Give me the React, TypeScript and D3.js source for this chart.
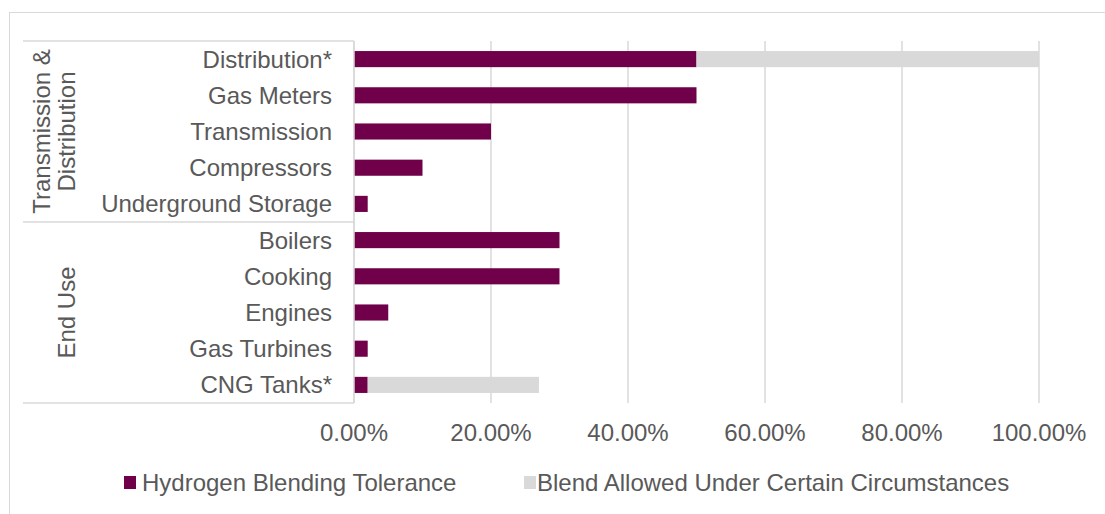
import React from "react";
import * as d3 from "d3";

const categories = [
  "Distribution*",
  "Gas Meters",
  "Transmission",
  "Compressors",
  "Underground Storage",
  "Boilers",
  "Cooking",
  "Engines",
  "Gas Turbines",
  "CNG Tanks*",
];
const tolerance = [50, 50, 20, 10, 2, 30, 30, 5, 2, 2];
const allowed = [50, 0, 0, 0, 0, 0, 0, 0, 0, 25];
const groups = [
  { lines: ["Transmission &", "Distribution"], from: 0, to: 4 },
  { lines: ["End Use"], from: 5, to: 9 },
];
const ticks = [0, 20, 40, 60, 80, 100];
const seriesNames = ["Hydrogen Blending Tolerance", "Blend Allowed Under Certain Circumstances"];

const W = 1105;
const H = 514;
const PURPLE = "#6F0049";
const GRAY = "#D9D9D9";
const TEXT = "#595959";
const FONT = "'Liberation Sans', Arial, sans-serif";
const FS = 24;

export default function App() {
  const x = d3.scaleLinear().domain([0, 100]).range([354, 1039]);
  const y = d3.scaleBand().domain(categories).range([41, 403]).paddingInner(0.555).paddingOuter(0.2775);
  const bh = y.bandwidth();
  const step = y.step();
  const top = 41;
  const bottom = 403;
  const groupY = (i: number) => top + i * step;

  return (
    <svg width={W} height={H} style={{ position: "absolute", left: 0, top: 0, background: "#fff" }} fontFamily={FONT}>
      <rect x={9.5} y={12.5} width={1200} height={600} fill="#fff" stroke={GRAY} strokeWidth={1} />
      {ticks.map((t) => (
        <line key={t} x1={x(t)} x2={x(t)} y1={top} y2={bottom} stroke={GRAY} strokeWidth={1.5} />
      ))}
      {categories.map((c, i) => (
        <g key={c}>
          <rect x={x(0)} y={y(c)} width={x(tolerance[i]) - x(0)} height={bh} fill={PURPLE} />
          {allowed[i] > 0 && (
            <rect
              x={x(tolerance[i])}
              y={y(c)}
              width={x(tolerance[i] + allowed[i]) - x(tolerance[i])}
              height={bh}
              fill={GRAY}
            />
          )}
          <text x={332} y={y(c)! + bh / 2} dy="0.35em" textAnchor="end" fontSize={FS} fill={TEXT}>
            {c}
          </text>
        </g>
      ))}
      <line x1={x(0)} x2={x(0)} y1={top} y2={bottom} stroke={GRAY} strokeWidth={1.5} />
      {[0, 5, 10].map((i) => (
        <line key={i} x1={23} x2={x(0)} y1={groupY(i)} y2={groupY(i)} stroke={GRAY} strokeWidth={1.5} />
      ))}
      {groups.map((g) => {
        const cy = (groupY(g.from) + groupY(g.to + 1)) / 2;
        const n = g.lines.length;
        return (
          <text key={g.lines[0]} transform={`translate(${n === 2 ? 50 : 75},${cy}) rotate(-90)`} textAnchor="middle" fontSize={FS} fill={TEXT}>
            {g.lines.map((l, k) => (
              <tspan key={l} x={0} y={k * 25}>
                {l}
              </tspan>
            ))}
          </text>
        );
      })}
      {ticks.map((t) => (
        <text key={t} x={x(t)} y={433} dy="0.35em" textAnchor="middle" fontSize={FS} fill={TEXT}>
          {d3.format(".2f")(t) + "%"}
        </text>
      ))}
      <rect x={124} y={476} width={12} height={13} fill={PURPLE} />
      <text x={142} y={483} dy="0.35em" fontSize={FS} fill={TEXT}>
        {seriesNames[0]}
      </text>
      <rect x={524} y={476} width={12} height={13} fill={GRAY} />
      <text x={537} y={483} dy="0.35em" fontSize={FS} fill={TEXT}>
        {seriesNames[1]}
      </text>
    </svg>
  );
}
